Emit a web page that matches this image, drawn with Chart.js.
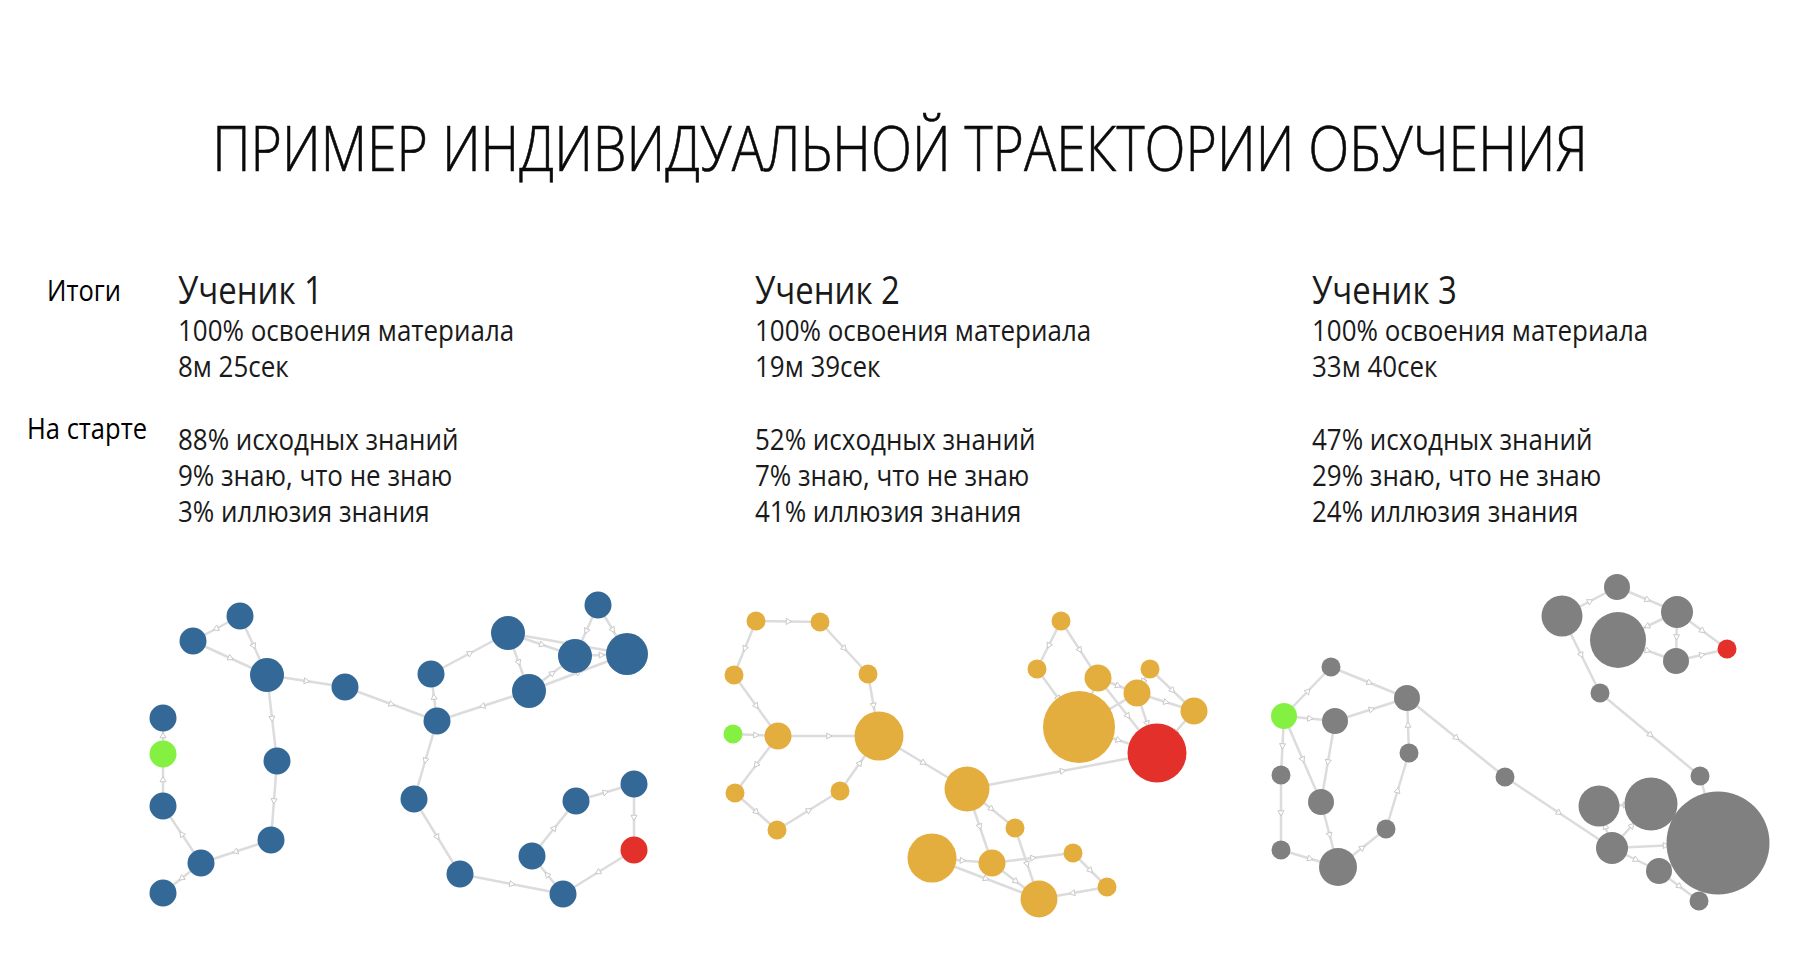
<!DOCTYPE html>
<html lang="ru">
<head>
<meta charset="utf-8">
<title>Пример индивидуальной траектории обучения</title>
<script src="https://cdn.jsdelivr.net/npm/chart.js@4.4.1/dist/chart.umd.min.js"></script>
<style>
    html, body { margin: 0; padding: 0; background: #fff; }
    body { width: 1800px; height: 966px; position: relative; overflow: hidden; font-family: "Open Sans", "Noto Sans", sans-serif; color: #1a1a1a; }
    .t { position: absolute; white-space: nowrap; transform-origin: left center; transform: scaleX(0.865); }
    #title { left: 0; width: 1800px; top: 112px; text-align: center; font-size: 62px; font-weight: 300; line-height: 70px; color: #0a0a0a; transform-origin: center center; transform: scaleX(0.865); -webkit-text-stroke: 0.6px #0a0a0a; }
    .name { font-size: 38px; line-height: 44px; }
    .line { font-size: 30px; line-height: 36px; }
    .lbl { font-size: 29px; line-height: 36px; color: #000; transform: scaleX(0.88); }
    canvas { position: absolute; }
</style>
</head>
<body>
<div id="title" class="t">ПРИМЕР ИНДИВИДУАЛЬНОЙ ТРАЕКТОРИИ ОБУЧЕНИЯ</div>
<div class="t lbl" style="left:47px; top:272px;">Итоги</div>
<div class="t lbl" style="left:27px; top:410px;">На старте</div>
<div id="cols"></div>

<canvas id="g1" width="560" height="360" style="left:120px; top:570px;"></canvas>
<canvas id="g2" width="540" height="350" style="left:700px; top:580px;"></canvas>
<canvas id="g3" width="560" height="380" style="left:1240px; top:560px;"></canvas>

<script>
// text of the three columns
var studentNames = ['Ученик 1', 'Ученик 2', 'Ученик 3'];
var mastery = ['100% освоения материала', '100% освоения материала', '100% освоения материала'];
var times = ['8м 25сек', '19м 39сек', '33м 40сек'];
var knownPct = ['88% исходных знаний', '52% исходных знаний', '47% исходных знаний'];
var knowUnknown = ['9% знаю, что не знаю', '7% знаю, что не знаю', '29% знаю, что не знаю'];
var illusion = ['3% иллюзия знания', '41% иллюзия знания', '24% иллюзия знания'];

// student 1 graph (layout units inside its panel)
var s1X = [120, 73, 147, 225, 43, 43, 157, 43, 151, 81, 43, 311, 388, 478, 455, 507, 409, 317, 294, 514, 456, 514, 412, 340, 443];
var s1Y = [46, 71, 105, 117, 148, 184, 191, 236, 270, 293, 323, 104, 63, 35, 86, 84, 121, 151, 229, 214, 231, 280, 286, 304, 324];
var s1R = [13.5, 13.5, 17, 13.5, 13.5, 13.5, 13.5, 13.5, 13.5, 13.5, 13.5, 13.5, 17, 13.5, 17, 21, 17, 13.5, 13.5, 13.5, 13.5, 13.5, 13.5, 13.5, 13.5];
var s1Edges = [[1,2],[1,3],[2,3],[3,4],[3,7],[7,9],[9,10],[10,8],[10,11],[8,6],[6,5],[4,18],[18,12],[12,13],[13,15],[13,16],[14,15],[14,16],[15,16],[13,17],[17,15],[17,16],[17,18],[18,19],[19,24],[24,25],[25,23],[23,21],[21,20],[20,22],[22,25]];
var s1Start = 6, s1End = 22;

// student 2 graph
var s2X = [56, 120, 34, 168, 33, 78, 179, 35, 140, 77, 267, 361, 337, 398, 450, 437, 379, 494, 457, 315, 232, 292, 373, 339, 407];
var s2Y = [41, 42, 95, 94, 154, 156, 156, 213, 211, 250, 209, 41, 89, 98, 89, 113, 147, 131, 173, 248, 278, 283, 273, 319, 307];
var s2R = [9.5, 9.5, 9.5, 9.5, 9.5, 13.5, 24.5, 9.5, 9.5, 9.5, 22.5, 9.5, 9.5, 13.5, 9.5, 13.5, 36, 13.5, 29.5, 9.5, 24.5, 13.5, 9.5, 18.5, 9.5];
var s2Edges = [[1,2],[2,4],[1,3],[3,6],[5,6],[6,7],[6,8],[8,10],[10,9],[9,7],[4,7],[7,11],[11,19],[11,20],[11,22],[21,22],[22,23],[21,24],[22,24],[20,24],[23,25],[25,24],[12,13],[12,14],[13,17],[14,16],[14,19],[15,16],[15,18],[16,18],[16,19],[17,19],[17,16],[18,19],[14,17]];
var s2Start = 5, s2End = 19;

// student 3 graph
var s3X = [377, 322, 437, 378, 487, 436, 360, 91, 44, 95, 167, 169, 41, 81, 265, 460, 146, 41, 98, 359, 411, 478, 372, 419, 459];
var s3Y = [27, 56, 52, 80, 89, 101, 133, 107, 156, 161, 138, 193, 215, 242, 217, 216, 269, 290, 307, 246, 244, 283, 288, 311, 341];
var s3R = [13, 20.5, 16, 28, 9.5, 13, 9.5, 9.5, 13, 13, 13, 9.5, 9.5, 13, 9.5, 9.5, 9.5, 9.5, 19, 20.5, 26.5, 51.5, 16, 13, 9.5];
var s3Edges = [[9,8],[8,11],[9,10],[10,11],[9,13],[13,18],[18,19],[9,14],[10,14],[14,19],[19,17],[17,12],[12,11],[11,15],[15,23],[23,20],[23,21],[23,22],[23,24],[24,22],[24,25],[21,22],[16,22],[7,16],[2,7],[2,1],[1,3],[3,4],[4,6],[3,6],[6,5],[3,5],[20,21],[22,25]];
var s3Start = 9, s3End = 5;

var startColor = '#84f042';
var endColor = '#e3302a';
var edgeColor = '#dcdcdc';

// column text
var colLeft = [178, 755, 1312];
var cols = document.getElementById('cols');
for (var i = 0; i < 3; i++) {
    var html = '';
    html += '<div class="t name" style="left:' + colLeft[i] + 'px; top:267px;">' + studentNames[i] + '</div>';
    html += '<div class="t line" style="left:' + colLeft[i] + 'px; top:312px;">' + mastery[i] + '</div>';
    html += '<div class="t line" style="left:' + colLeft[i] + 'px; top:348px;">' + times[i] + '</div>';
    html += '<div class="t line" style="left:' + colLeft[i] + 'px; top:421px;">' + knownPct[i] + '</div>';
    html += '<div class="t line" style="left:' + colLeft[i] + 'px; top:457px;">' + knowUnknown[i] + '</div>';
    html += '<div class="t line" style="left:' + colLeft[i] + 'px; top:493px;">' + illusion[i] + '</div>';
    cols.insertAdjacentHTML('beforeend', html);
}

function makeGraph(id, xs, ys, rs, edges, color, start, end) {
    var canvas = document.getElementById(id);
    var datasets = [];

    // nodes
    var nodes = [], colors = [];
    for (var i = 0; i < xs.length; i++) {
        nodes.push({ x: xs[i], y: ys[i], r: rs[i] });
        if (i + 1 === start) colors.push(startColor);
        else if (i + 1 === end) colors.push(endColor);
        else colors.push(color);
    }
    datasets.push({ type: 'bubble', data: nodes, backgroundColor: colors, borderWidth: 0, order: 0 });

    // arrow marks at edge middles
    var marks = [], rot = [];
    for (var j = 0; j < edges.length; j++) {
        var a = edges[j][0] - 1, b = edges[j][1] - 1;
        marks.push({ x: (xs[a] + xs[b]) / 2, y: (ys[a] + ys[b]) / 2 });
        rot.push(Math.atan2(ys[b] - ys[a], xs[b] - xs[a]) * 180 / Math.PI + 90);
    }
    datasets.push({ type: 'scatter', data: marks, pointStyle: 'triangle', pointRadius: 3.5, rotation: rot,
        backgroundColor: '#fff', borderColor: '#c8c8c8', borderWidth: 1, order: 1 });

    // edges
    for (var k = 0; k < edges.length; k++) {
        var p = edges[k][0] - 1, q = edges[k][1] - 1;
        datasets.push({ type: 'line', data: [{ x: xs[p], y: ys[p] }, { x: xs[q], y: ys[q] }],
            borderColor: edgeColor, borderWidth: 2.5, pointRadius: 0, fill: false, order: 2 });
    }

    return new Chart(canvas.getContext('2d'), {
        type: 'bubble',
        data: { datasets: datasets },
        options: {
            responsive: false,
            animation: false,
            events: [],
            layout: { padding: 0, autoPadding: false },
            plugins: { legend: { display: false }, tooltip: { enabled: false } },
            scales: {
                x: { type: 'linear', display: false, min: 0, max: canvas.width },
                y: { type: 'linear', display: false, min: 0, max: canvas.height, reverse: true }
            }
        }
    });
}

makeGraph('g1', s1X, s1Y, s1R, s1Edges, '#346897', s1Start, s1End);
makeGraph('g2', s2X, s2Y, s2R, s2Edges, '#e4ae3e', s2Start, s2End);
makeGraph('g3', s3X, s3Y, s3R, s3Edges, '#808080', s3Start, s3End);
</script>
</body>
</html>
